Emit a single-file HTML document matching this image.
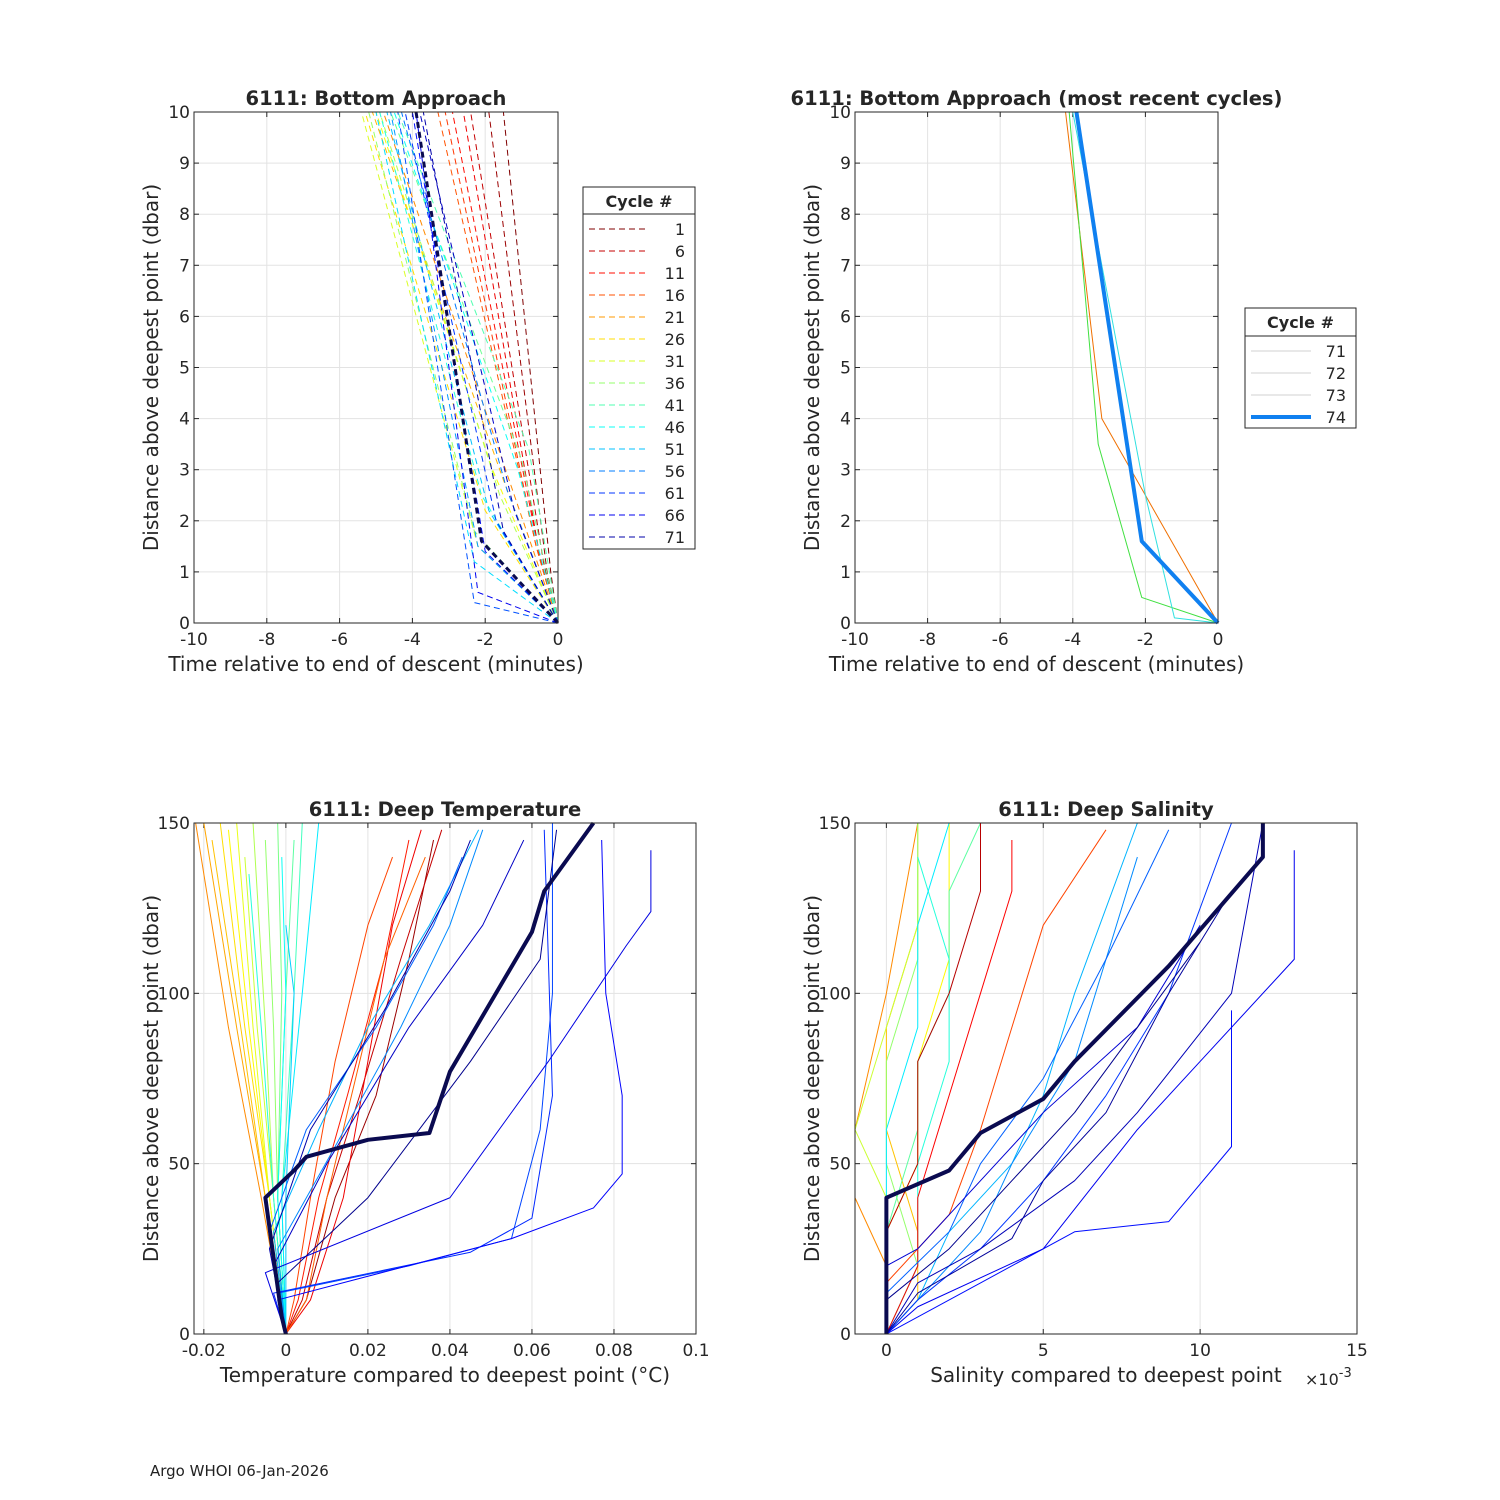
<!DOCTYPE html>
<html><head><meta charset="utf-8"><style>
body{margin:0;background:#fff}
svg{display:block;font-family:"DejaVu Sans","Liberation Sans",sans-serif}
</style></head><body>
<svg id="s" width="1500" height="1500" viewBox="0 0 1500 1500" xmlns="http://www.w3.org/2000/svg">
<rect width="1500" height="1500" fill="#fff"/>
<text x="150" y="1476" font-size="15" fill="#222">Argo WHOI 06-Jan-2026</text>
</svg>
<script>
// ---- Panel 1: bottom approach (all cycles) ----
const p1Cycles=[1,3,6,9,11,14,16,20,23,26,29,31,34,36,39,41,44,46,49,51,54,56,59,61,64,66,69,71,74];
const p1Times=[[0,-0.2,-1.5],[0,-0.3,-1.9],[0,-0.4,-2.4],[0,-0.5,-2.6],[0,-0.5,-2.9],[0,-0.6,-3.1],[0,-0.6,-3.3],
[0,-1.2,-4.8],[0,-1.5,-5.1],[0,-2.0,-5.3],[0,-1.8,-5.0],[0,-2.2,-5.4],[0,-1.6,-4.9],[0,-2.3,-5.2],[0,-1.0,-4.6],
[0,-0.8,-4.4],[0,-2.1,-4.9],[0,-1.1,-4.5],[0,-2.3,-5.0],[0,-1.9,-4.7],[0,-2.2,-4.6],[0,-1.4,-4.3],[0,-2.3,-4.4],
[0,-1.7,-4.2],[0,-2.0,-4.0],[0,-2.2,-3.9],[0,-1.2,-3.8],[0,-1.5,-3.7],[0,-2.1,-3.9]];
const p1Dbar=[[0,1,10],[0,1,10],[0,1.2,10],[0,1.3,10],[0,1.3,10],[0,1.5,10],[0,1.5,10],
[0,2.5,10],[0,2.8,10],[0,2.2,10],[0,3,10],[0,1.5,10],[0,2.5,10],[0,1.8,10],[0,3.2,10],
[0,3.4,10],[0,2.5,10],[0,3,10],[0,1.2,10],[0,2.2,10],[0,1.5,10],[0,2.6,10],[0,0.4,10],
[0,2,10],[0,1.4,10],[0,0.6,10],[0,2.2,10],[0,1.8,10],[0,1.6,10]];
const p1LegendCycles=[1,6,11,16,21,26,31,36,41,46,51,56,61,66,71];
// ---- Panel 2: most recent cycles ----
const p2Cycles=[71,72,73,74];
const p2Times=[[0,-3.2,-4.2],[0,-2.1,-3.3,-4.1],[0,-1.2,-2.0,-4.0],[0,-2.1,-3.9]];
const p2Dbar=[[0,4,10],[0,0.5,3.5,10],[0,0.1,2.5,10],[0,1.6,10]];
const p2Colors=["#f07000","#40e040","#30e0e0","#1080f0"];
// ---- Panel 3: deep temperature (T in 1e-3 degC) ----
const p3Cycles=[20,22,24,26,28,30,32,34,36,38,40,42,44,46,48,50,3,6,9,12,15,17,52,55,58,60,62,65,67,69,71,73,74];
const p3Temp=[[0,-6,-14,-22],[0,-5,-12,-20],[0,-5,-11,-18],[0,-4,-10,-16],[0,-4,-9,-14],[0,-4,-8,-12],[0,-3,-7,-10],
[0,-3,-5,-8],[0,-2,-3,-5],[0,-2,-1,-2],[0,-2,0,2],[0,-1,2,4],[0,-3,-6,-9],[0,-2,0,-1],[0,-1,4,8],[0,0,2,0],
[0,5,12,22,30,36],[0,4,10,18,28,38],[0,6,14,20,26,33],[0,3,8,15,24,30],[0,2,6,12,20,26],[0,5,10,16,24,34],
[0,-3,8,20,35,47],[0,-2,12,28,40,48],[0,-4,5,22,36,43],[0,-2,30,55,62,65,65],[0,-3,45,60,65,64,63],
[0,-2,55,75,82,82,78,77],[0,-5,40,64,83,89,89],[0,-3,10,30,48,58],[0,-4,6,24,40,45],[0,-2,20,45,62,66],
[0,-1,-5,2,5,20,35,40,60,63,75]];
const p3Dbar=[[0,40,90,150],[0,40,90,150],[0,40,90,145],[0,40,90,150],[0,40,90,148],[0,40,90,150],[0,40,90,140],
[0,40,90,150],[0,40,90,145],[0,40,100,150],[0,40,100,145],[0,40,100,150],[0,40,90,135],[0,40,100,140],[0,40,100,150],[0,40,100,120],
[0,10,40,70,110,145],[0,10,40,70,110,148],[0,10,40,80,120,148],[0,10,40,70,110,145],[0,10,40,80,120,140],[0,10,40,70,110,140],
[0,30,60,90,120,148],[0,25,55,90,120,148],[0,30,60,90,120,140],[0,12,20,28,60,100,150],[0,12,24,34,70,110,148],
[0,10,28,37,47,70,100,145],[0,18,40,80,114,124,142],[0,20,50,90,120,145],[0,25,60,95,130,145],[0,15,40,80,110,148],
[0,5,40,48,52,57,59,77,118,130,150]];
// ---- Panel 4: deep salinity (S in 1e-3) ----
const p4Cycles=[20,24,28,32,36,40,44,48,5,10,15,52,55,58,61,64,66,68,70,72,73,74];
const p4Sal=[[0,0,-1,-1,0,1],[0,1,1,0,0,1,1],[0,0,1,1,2,2],[0,0,-1,0,1,1],[0,1,0,0,1,1],[0,0,1,1,2,2,3],[0,1,1,2,2,1],[0,0,0,1,1,2],
[0,0,1,1,2,3,3],[0,1,1,2,3,4,4],[0,0,2,3,4,5,7],[0,1,2,4,5,6,8],[0,1,3,4,6,7,8],[0,0,2,3,5,7,9],[0,1,3,5,7,9,11],
[0,3,6,9,11,11],[0,1,5,8,10,13,13],[0,0,1,3,5,8,10],[0,1,3,6,8,11,12],[0,1,4,5,7,9,11],[0,0,2,4,6,8,10],
[0,0,2,3,5,6,9,12,12]];
const p4Dbar=[[0,20,40,60,100,150],[0,10,30,60,90,120,150],[0,30,50,80,110,150],[0,40,60,90,120,140],[0,20,50,80,110,150],[0,30,60,80,100,130,150],[0,20,50,80,110,140],[0,30,60,90,120,150],
[0,30,50,80,100,130,150],[0,20,40,70,100,130,145],[0,15,35,60,90,120,148],[0,10,30,50,70,100,150],[0,10,30,50,80,110,140],[0,12,30,50,75,110,148],[0,10,25,45,70,100,150],
[0,15,30,33,55,95],[0,8,25,60,80,110,142],[0,20,25,45,65,90,120],[0,15,25,45,65,100,150],[0,12,28,45,65,100,130],[0,10,25,45,65,90,115],
[0,40,48,59,69,80,108,140,150]];

function jet(c){const v=(74-c)/73;const f=x=>Math.max(0,Math.min(1,x));
const r=f(1.5-Math.abs(4*v-3)),g=f(1.5-Math.abs(4*v-2)),b=f(1.5-Math.abs(4*v-1));
return `rgb(${Math.round(r*255)},${Math.round(g*255)},${Math.round(b*255)})`;}
const svg=document.getElementById('s');const NS="http://www.w3.org/2000/svg";
function el(tag,attrs,parent){const e=document.createElementNS(NS,tag);for(const k in attrs)e.setAttribute(k,attrs[k]);(parent||svg).appendChild(e);return e;}
function txt(x,y,s,size,anchor,weight,parent){const t=el('text',{x:x,y:y,'font-size':size,'text-anchor':anchor||'middle','font-weight':weight||'normal',fill:'#262626'},parent);t.textContent=s;return t;}

function panel(cfg){
 const g=el('g',{});
 
 
 const X=v=>cfg.x0+(v-cfg.xmin)/(cfg.xmax-cfg.xmin)*(cfg.x1-cfg.x0);
 const Y=v=>cfg.y1-(v-cfg.ymin)/(cfg.ymax-cfg.ymin)*(cfg.y1-cfg.y0);
 el('rect',{x:cfg.x0,y:cfg.y0,width:cfg.x1-cfg.x0,height:cfg.y1-cfg.y0,fill:'#fff'},g);
 cfg.xt.forEach((v,i)=>{const x=X(v);el('line',{x1:x,x2:x,y1:cfg.y0,y2:cfg.y1,stroke:'#e3e3e3','stroke-width':1},g);
  el('line',{x1:x,x2:x,y1:cfg.y1,y2:cfg.y1-5,stroke:'#262626'},g);el('line',{x1:x,x2:x,y1:cfg.y0,y2:cfg.y0+5,stroke:'#262626'},g);
  const t=txt(x,cfg.y1+22,cfg.xl[i],17,'middle','normal',g);
  
  });
 cfg.yt.forEach((v,i)=>{const y=Y(v);el('line',{x1:cfg.x0,x2:cfg.x1,y1:y,y2:y,stroke:'#e3e3e3','stroke-width':1},g);
  el('line',{x1:cfg.x0,x2:cfg.x0+5,y1:y,y2:y,stroke:'#262626'},g);el('line',{x1:cfg.x1,x2:cfg.x1-5,y1:y,y2:y,stroke:'#262626'},g);
  const t=txt(cfg.x0-4,y+6,cfg.yl[i],17,'end','normal',g);
  
  });
 const lg=el('g',{},g);
 
 
 cfg.series.forEach(s=>{
  const pts=s.xs.map((v,i)=>X(v)+','+Y(s.ys[i])).join(' ');
  const p=el('polyline',{points:pts,fill:'none',stroke:s.color,'stroke-width':s.w||1,'stroke-dasharray':s.dash||'none','stroke-linejoin':'round'},lg);
  
  });
 el('rect',{x:cfg.x0,y:cfg.y0,width:cfg.x1-cfg.x0,height:cfg.y1-cfg.y0,fill:'none',stroke:'#262626','stroke-width':1},g);
 const ti=txt((cfg.x0+cfg.x1)/2,cfg.y0-7,cfg.title,19.5,'middle','bold',g);
 
 
 const xl=txt((cfg.x0+cfg.x1)/2,cfg.y1+48,cfg.xlabel,20,'middle','normal',g);
 
 
 const yx=cfg.x0-36,yy=(cfg.y0+cfg.y1)/2;
 const yl=txt(yx,yy,cfg.ylabel,20,'middle','normal',g);yl.setAttribute('transform',`rotate(-90 ${yx} ${yy})`);
 
 
 return g;
}
function legend(x0,y0,w,h,hy,entries){
 const g=el('g',{});
 
 
 el('rect',{x:x0,y:y0,width:w,height:h,fill:'#fff',stroke:'#262626'},g);
 txt(x0+w/2,y0+20,'Cycle #',16,'middle','bold',g);
 el('line',{x1:x0,x2:x0+w,y1:hy,y2:hy,stroke:'#262626'},g);
 entries.forEach((e,i)=>{const y=hy+15+22*i;
  const r=el('g',{},g);
  
  
  el('line',{x1:x0+6,x2:x0+66,y1:y,y2:y,stroke:e.color,'stroke-width':e.w||1,'stroke-dasharray':e.dash||'none'},r);
  txt(x0+w-10,y+6,String(e.c),16,'end','normal',r);});
}
panel({name:'bottom-approach-panel',x0:194,x1:558,y0:112,y1:623,xmin:-10,xmax:0,ymin:0,ymax:10,
 xt:[-10,-8,-6,-4,-2,0],xl:['-10','-8','-6','-4','-2','0'],yt:[0,1,2,3,4,5,6,7,8,9,10],yl:['0','1','2','3','4','5','6','7','8','9','10'],
 title:'6111: Bottom Approach',xlabel:'Time relative to end of descent (minutes)',ylabel:'Distance above deepest point (dbar)',
 series:p1Cycles.map((c,i)=>({c:c,xs:p1Times[i],ys:p1Dbar[i],color:c===74?'#0a0a50':jet(c),dash:'6,4',w:c===74?3:1}))});
legend(583,187,112,362,214,p1LegendCycles.map(c=>({c:c,color:jet(c),dash:'6,4'})));
panel({name:'recent-cycles-panel',x0:855,x1:1218,y0:112,y1:623,xmin:-10,xmax:0,ymin:0,ymax:10,
 xt:[-10,-8,-6,-4,-2,0],xl:['-10','-8','-6','-4','-2','0'],yt:[0,1,2,3,4,5,6,7,8,9,10],yl:['0','1','2','3','4','5','6','7','8','9','10'],
 title:'6111: Bottom Approach (most recent cycles)',xlabel:'Time relative to end of descent (minutes)',ylabel:'Distance above deepest point (dbar)',
 series:p2Cycles.map((c,i)=>({c:c,xs:p2Times[i],ys:p2Dbar[i],color:p2Colors[i],w:c===74?4:1}))});
legend(1245,308,111,120,336,p2Cycles.map((c,i)=>({c:c,color:c===74?'#1080f0':'#d0d0d0',w:c===74?4:1})));
panel({name:'deep-temperature-panel',x0:194,x1:696,y0:823,y1:1334,xmin:-22.4,xmax:100,ymin:0,ymax:150,
 xt:[-20,0,20,40,60,80,100],xl:['-0.02','0','0.02','0.04','0.06','0.08','0.1'],yt:[0,50,100,150],yl:['0','50','100','150'],
 title:'6111: Deep Temperature',xlabel:'Temperature compared to deepest point (°C)',ylabel:'Distance above deepest point (dbar)',
 series:p3Cycles.map((c,i)=>({c:c,xs:p3Temp[i],ys:p3Dbar[i],color:c===74?'#0a0a50':jet(c),w:c===74?4:1}))});
panel({name:'deep-salinity-panel',x0:855,x1:1357,y0:823,y1:1334,xmin:-1,xmax:15,ymin:0,ymax:150,
 xt:[0,5,10,15],xl:['0','5','10','15'],yt:[0,50,100,150],yl:['0','50','100','150'],
 title:'6111: Deep Salinity',xlabel:'Salinity compared to deepest point',ylabel:'Distance above deepest point (dbar)',
 series:p4Cycles.map((c,i)=>({c:c,xs:p4Sal[i],ys:p4Dbar[i],color:c===74?'#0a0a50':jet(c),w:c===74?4:1}))});
const ex=txt(1305,1385,'×10',16,'start');


const sup=el('tspan',{dy:-8,'font-size':13});sup.textContent='-3';ex.appendChild(sup);
</script>
</body></html>
